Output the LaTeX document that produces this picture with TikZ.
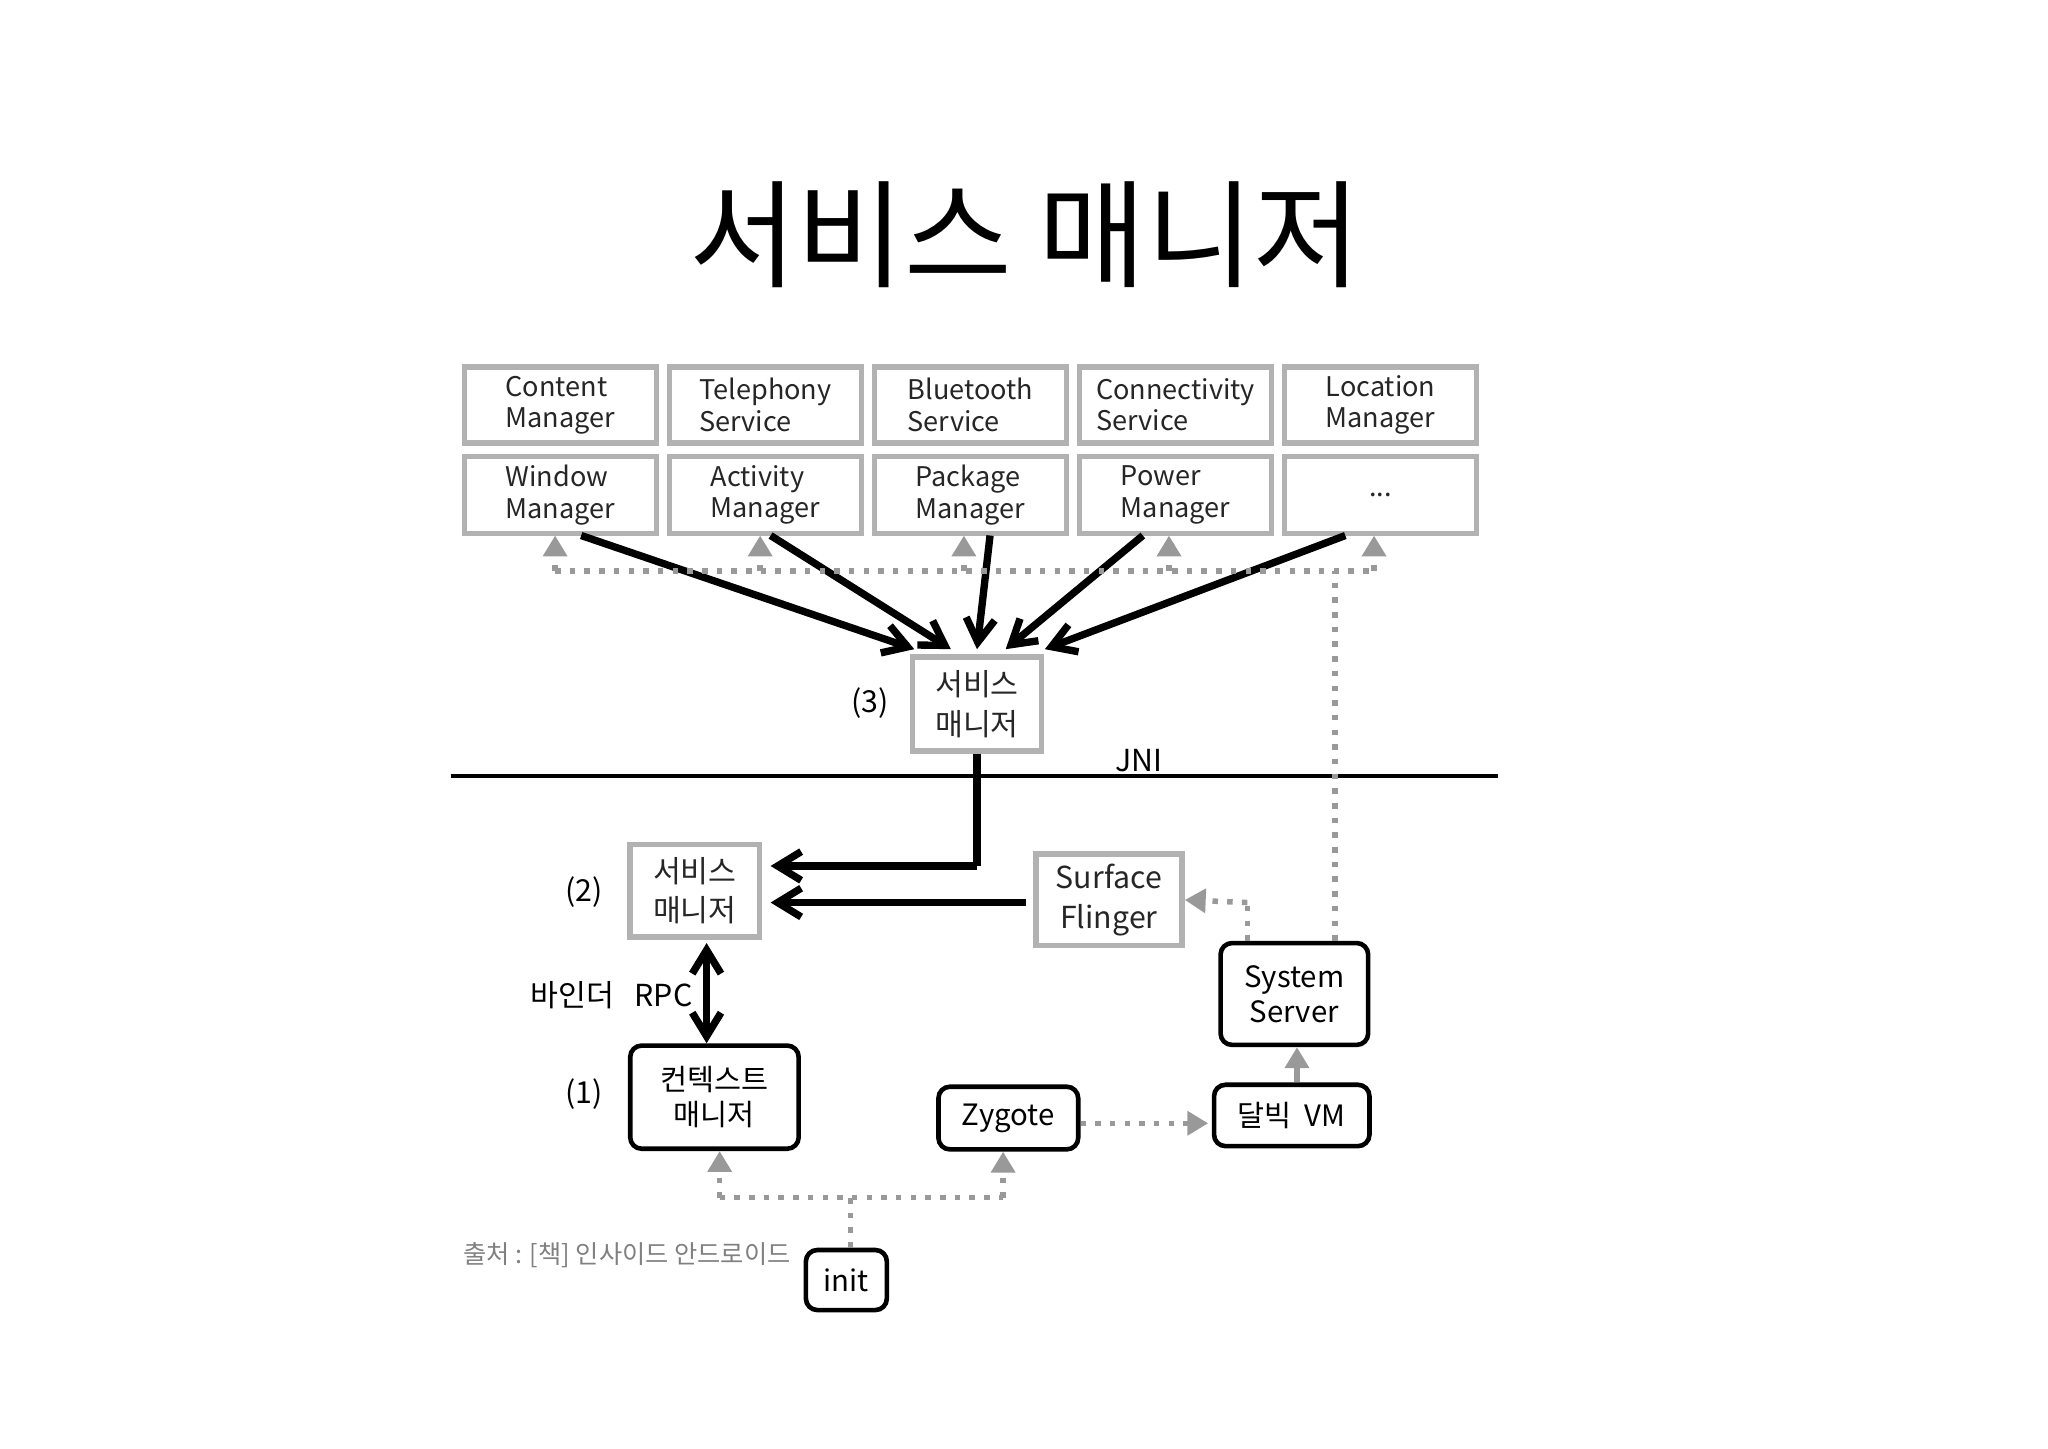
\documentclass[tikz,border=0pt]{standalone}
\usepackage{fontspec}
\setmainfont{Noto Sans CJK KR}
\usetikzlibrary{arrows.meta}
\begin{document}
\begin{tikzpicture}[x=0.1mm,y=-0.1mm,
 gbox/.style={draw=gray!60,line width=1.2pt,inner sep=0pt,font=\fontsize{5.9}{6.8}\selectfont,text=black!85},
 rbox/.style={draw=black,line width=1pt,rounded corners=2.5pt,inner sep=0pt,font=\fontsize{6.4}{7.6}\selectfont},
 thk/.style={line width=1.6pt,-{Straight Barb[length=1.8mm,width=2.2mm]}},
 dot/.style={gray!80,line width=1.2pt,dotted,-{Triangle[length=1.6mm,width=1.8mm]}},
 dotn/.style={gray!80,line width=1.2pt,dotted},
 lbl/.style={font=\fontsize{6.6}{8}\selectfont}]
\useasboundingbox (0,0) rectangle (1568,1109);
\node (title) at (785,180) {\fontsize{25.5}{30}\selectfont 서비스 매니저};
% top boxes
\foreach \x/\a/\b [count=\i] in {356/Content/Manager,513/Telephony/Service,670/Bluetooth/Service,827/Connectivity/Service,984/Location/Manager}
  \node[gbox,minimum width=14.7mm,minimum height=5.8mm,align=left] (t\i) at (\x+73,310) {\a\\\b};
\foreach \x/\a/\b [count=\i] in {356/Window/Manager,513/Activity/Manager,670/Package/Manager,827/Power/Manager}
  \node[gbox,minimum width=14.7mm,minimum height=5.9mm,align=left] (b\i) at (\x+73,379) {\a\\\b};
\node[gbox,minimum width=14.7mm,minimum height=5.9mm] (b5) at (1057,379) {...};
% service manager 3
\node[gbox,minimum width=9.9mm,minimum height=7.2mm,align=center,font=\fontsize{6.6}{8.6}\selectfont] (sm3) at (748,539) {서비스\\매니저};
\node[lbl] (l3) at (666,538) {(3)};
\coordinate (h1) at (700,497);\coordinate (h2) at (728,497);\coordinate (h3) at (748,497);\coordinate (h4) at (770,497);\coordinate (h5) at (800,497);
\draw[thk] (445,410) -- (h1);
\draw[thk] (590,410) -- (h2);
\draw[thk] (758,410) -- (h3);
\draw[thk] (875,410) -- (h4);
\draw[thk] (1030,410) -- (h5);
% dotted bus
\draw[dotn] (425,437) -- (1052,437);
\foreach \x in {425,582,738,895,1052} \draw[dot] (\x,437) -- (\x,410);
% JNI
\draw[line width=1pt] (345,594) coordinate (j1) -- (1147,594) coordinate (j2);
\node[lbl] (jni) at (872,582) {JNI};
% lower
\node[gbox,minimum width=9.9mm,minimum height=7.1mm,align=center,font=\fontsize{6.6}{8.6}\selectfont] (sm2) at (532,682) {서비스\\매니저};
\node[lbl] (l2) at (447,683) {(2)};
\node[gbox,minimum width=11.2mm,minimum height=7mm,align=center,font=\fontsize{6.6}{8.6}\selectfont] (sf) at (849,689) {Surface\\Flinger};
\draw[line width=1.6pt] (sm3.south) -- (748,663);
\draw[thk] (748,663) -- (590,663);
\draw[thk] (sf.west) ++(-5,2) -- (590,691);
\node[lbl] (bind) at (438,762) {바인더};
\node[lbl] (rpc) at (508,762) {RPC};
\node[rbox,minimum width=12.9mm,minimum height=7.9mm,align=center] (cm) at (547,840) {컨텍스트\\매니저};
\node[lbl] (l1) at (447,838) {(1)};
\draw[line width=1.6pt,{Straight Barb[length=1.8mm,width=2.2mm]}-{Straight Barb[length=1.8mm,width=2.2mm]}] (541,722) -- (cm.north -| 541,0);
\node[rbox,minimum width=10.7mm,minimum height=4.8mm] (zy) at (772,856) {Zygote};
\node[rbox,minimum width=11.9mm,minimum height=4.7mm] (dv) at (989,854) {달빅\ \ VM};
\node[rbox,minimum width=11.3mm,minimum height=7.8mm,align=center] (ss) at (991,761) {System\\Server};
\node[rbox,minimum width=6.2mm,minimum height=4.6mm] (init) at (648,980) {init};
\draw[dot] (zy.east) ++(0,4) -- (925,860);
\draw[gray!80,line width=1.5pt,-{Triangle[length=1.6mm,width=1.8mm]}] (dv.north -| 993,0) -- (ss.south -| 993,0);
\draw[dotn] (ss.north -| 955,0) -- (955,691);
\draw[dot] (955,691) -- (sf.east);
\draw[dotn] (ss.north -| 1022,0) -- (1022,437);
\draw[dotn] (init.north -| 651,0) -- (651,917);
\draw[dotn] (551,917) -- (768,917);
\draw[dot] (551,917) -- (cm.south -| 551,0);
\draw[dot] (768,917) -- (zy.south -| 768,0);
\node[font=\fontsize{5.5}{6}\selectfont,text=gray] (src) at (480,961) {출처 : [책] 인사이드 안드로이드};
\end{tikzpicture}
\end{document}
